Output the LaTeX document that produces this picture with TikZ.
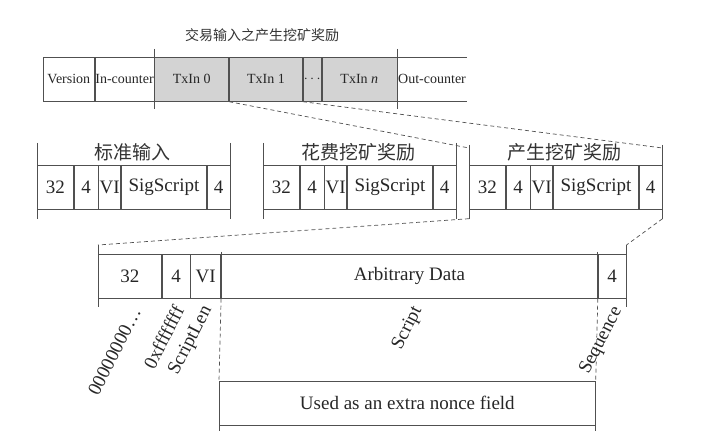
\documentclass[tikz,border=0pt]{standalone}
\usepackage{fontspec}
\setmainfont{Liberation Serif}
\newfontfamily\cjk{Noto Sans CJK SC}
\usetikzlibrary{positioning}
\definecolor{linec}{HTML}{505050}
\definecolor{cellgray}{HTML}{D3D3D3}
\tikzset{fld/.style={draw=linec,line width=0.7pt,minimum height=44pt,inner sep=0pt,anchor=north west,text=black!85,font=\fontsize{14}{16}\selectfont},
  bigfld/.style={fld,font=\fontsize{19}{21}\selectfont},
  grayfld/.style={fld,fill=cellgray},
  ttl/.style={text=black!80,font=\cjk\fontsize{19}{21}\selectfont},
  tick/.style={draw=linec,line width=0.7pt},
  zoomln/.style={draw=linec,line width=0.7pt,dash pattern=on 4pt off 3pt},
  rlab/.style={rotate=63,anchor=east,inner sep=0pt,text=black!85,font=\fontsize{19}{21}\selectfont}}

\begin{document}
\begin{tikzpicture}[x=1pt,y=-1pt]
    \useasboundingbox (0,0) rectangle (720,443);

    % transaction
    \node[ttl,font=\cjk\fontsize{14}{16}\selectfont] (ttop) at (262,35) {交易输入之产生挖矿奖励};
    \node[fld,minimum width=51pt] (ver) at (43,57) {Version};
    \node[fld,minimum width=59pt] (inc) at (ver.north east) {In-counter};
    \node[grayfld,minimum width=74pt] (tx0) at (inc.north east) {TxIn 0};
    \node[grayfld,minimum width=73pt] (tx1) at (tx0.north east) {TxIn 1};
    \node[grayfld,minimum width=18pt] (dots) at (tx1.north east) {$\cdots$};
    \node[grayfld,minimum width=75pt] (txn) at (dots.north east) {TxIn \textit{n}};
    \node[fld,draw=none,minimum width=69pt] (outc) at (txn.north east) {Out-counter};
    \draw[tick] (outc.north west) -- (outc.north east) (outc.south west) -- (outc.south east);
    \draw[tick] ([yshift=8pt]tx0.north west) -- ([yshift=-7pt]tx0.south west);
    \draw[tick] ([yshift=8pt]txn.north east) -- ([yshift=-7pt]txn.south east);

    % standard input
    \node[ttl] (ta) at (132,152) {标准输入};
    \node[bigfld,minimum width=36pt] (a1) at (37,165) {32};
    \node[bigfld,minimum width=24pt] (a2) at (a1.north east) {4};
    \node[bigfld,minimum width=22pt] (a3) at (a2.north east) {VI};
    \node[bigfld,minimum width=85pt] (a4) at (a3.north east) {SigScript};
    \node[bigfld,minimum width=23pt] (a5) at (a4.north east) {4};
    \draw[tick] ([yshift=22pt]a1.north west) -- ([yshift=-9pt]a1.south west);
    \draw[tick] ([yshift=22pt]a5.north east) -- ([yshift=-9pt]a5.south east);

    % spend coinbase
    \node[ttl] (tb) at (358,152) {花费挖矿奖励};
    \node[bigfld,minimum width=36pt] (b1) at (263,165) {32};
    \node[bigfld,minimum width=24pt] (b2) at (b1.north east) {4};
    \node[bigfld,minimum width=22pt] (b3) at (b2.north east) {VI};
    \node[bigfld,minimum width=85pt] (b4) at (b3.north east) {SigScript};
    \node[bigfld,minimum width=23pt] (b5) at (b4.north east) {4};
    \draw[tick] ([yshift=22pt]b1.north west) -- ([yshift=-9pt]b1.south west);
    \draw[tick] ([yshift=22pt]b5.north east) -- ([yshift=-9pt]b5.south east);

    % generate coinbase
    \node[ttl] (tc) at (564,152) {产生挖矿奖励};
    \node[bigfld,minimum width=36pt] (c1) at (469,165) {32};
    \node[bigfld,minimum width=24pt] (c2) at (c1.north east) {4};
    \node[bigfld,minimum width=22pt] (c3) at (c2.north east) {VI};
    \node[bigfld,minimum width=85pt] (c4) at (c3.north east) {SigScript};
    \node[bigfld,minimum width=23pt] (c5) at (c4.north east) {4};
    \draw[tick] ([yshift=20pt]c1.north west) -- ([yshift=-9pt]c1.south west);
    \draw[tick] ([yshift=20pt]c5.north east) -- ([yshift=-9pt]c5.south east);

    % coinbase input
    \node[bigfld,minimum width=63pt] (l1) at (98,254) {32};
    \node[bigfld,minimum width=28pt] (l2) at (l1.north east) {4};
    \node[bigfld,minimum width=30pt] (l3) at (l2.north east) {VI};
    \node[bigfld,minimum width=376pt] (l4) at (l3.north east) {Arbitrary Data};
    \node[bigfld,minimum width=28pt] (l5) at (l4.north east) {4};
    \draw[tick] ([yshift=9pt]l1.north west) -- ([yshift=-8pt]l1.south west);
    \draw[tick] ([yshift=9pt]l5.north east) -- ([yshift=-8pt]l5.south east);
    \draw[tick] ([yshift=2pt]l4.north west) -- (l4.north west);
    \draw[tick] ([yshift=2pt]l4.north east) -- (l4.north east);

    \node[bigfld,minimum width=376pt] (nonce) at (219,381) {Used as an extra nonce field};
    \draw[tick] (nonce.south west) -- ([yshift=-5pt]nonce.south west);
    \draw[tick] (nonce.south east) -- ([yshift=-5pt]nonce.south east);
    \draw[zoomln] (l4.south west) -- (nonce.north west);
    \draw[zoomln] (l4.south east) -- (nonce.north east);

    \node[rlab] (zero) at (136,309) {00000000\ldots};
    \node[rlab] (seq1) at (179,307) {0xffffffff};
    \node[rlab] (slen) at (208,307) {ScriptLen};
    \node[rlab] (scr) at (418,308) {Script};
    \node[rlab] (sequ) at (618,308) {Sequence};

    % zoom lines
    \coordinate (ctl) at ([yshift=17pt]c1.north west);
    \coordinate (ctr) at ([yshift=17pt]c5.north east);
    \coordinate (cbl) at ([yshift=-9pt]c1.south west);
    \coordinate (cbr) at ([yshift=-9pt]c5.south east);
    \coordinate (ltl) at ([yshift=9pt]l1.north west);
    \coordinate (ltr) at ([yshift=9pt]l5.north east);
    \draw[zoomln] (tx1.south west) -- (ctl);
    \draw[zoomln] (tx1.south east) -- (ctr);
    \draw[zoomln] (cbl) -- (ltl);
    \draw[zoomln] (cbr) -- (ltr);
\end{tikzpicture}
\end{document}
